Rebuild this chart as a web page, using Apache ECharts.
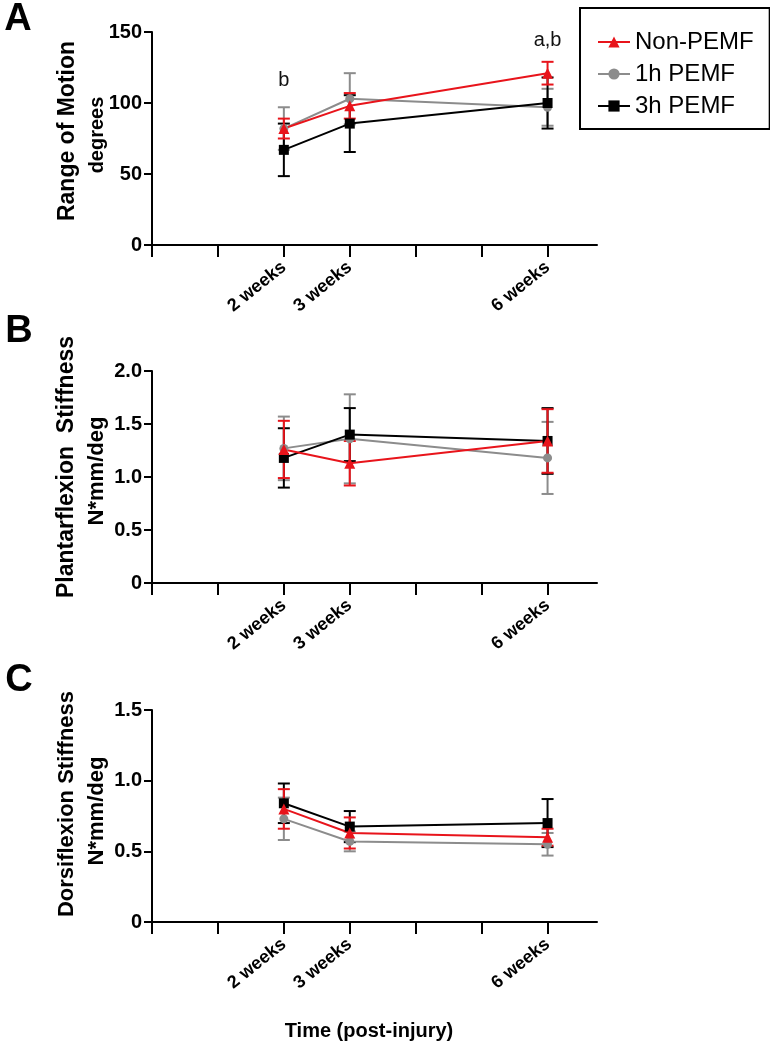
<!DOCTYPE html>
<html>
<head>
<meta charset="utf-8">
<script src="https://cdn.jsdelivr.net/npm/echarts@6/dist/echarts.min.js"></script>
<style>html,body{margin:0;padding:0;background:#fff}#c{width:770px;height:1050px}</style>
</head>
<body>
<div id="c"></div>
<script>
// ---- data ----
const weeks = [2, 3, 6];
const weekLabels = ['2 weeks', '3 weeks', '6 weeks'];
const groups = ['Non-PEMF', '1h PEMF', '3h PEMF'];

// Panel A: Range of Motion (degrees), mean and error
const romNon = [82, 98, 121];
const romNonErr = [7, 9, 8];
const rom1h = [82, 103, 97];
const rom1hErr = [15, 18, 13];
const rom3h = [67, 85.5, 100];
const rom3hErr = [18.5, 20, 18];

// Panel B: Plantarflexion stiffness (N*mm/deg)
const pfNon = [1.26, 1.13, 1.34];
const pfNonErr = [0.27, 0.21, 0.30];
const pf1h = [1.27, 1.36, 1.18];
const pf1hErr = [0.30, 0.42, 0.34];
const pf3h = [1.18, 1.40, 1.34];
const pf3hErr = [0.28, 0.25, 0.31];

// Panel C: Dorsiflexion stiffness (N*mm/deg)
const dfNon = [0.80, 0.63, 0.60];
const dfNonErr = [0.14, 0.11, 0.06];
const df1h = [0.73, 0.57, 0.55];
const df1hErr = [0.15, 0.07, 0.08];
const df3h = [0.84, 0.675, 0.70];
const df3hErr = [0.14, 0.11, 0.17];

// significance annotations on panel A
const annoText = ['b', 'a,b'];
const annoX = [2, 6];
const annoY = [116, 144];

// ---- styling ----
const FONT = 'Arial, "Liberation Sans", sans-serif';
const RED = '#e8141b', GRAY = '#8c8c8c', BLACK = '#000000';
const colors = [RED, GRAY, BLACK];
const symbols = ['triangle', 'circle', 'rect'];
const symSizes = [11, 9, 10];

const grids = [
  {left: 152, top: 32, width: 445, height: 213},
  {left: 152, top: 371, width: 445, height: 212},
  {left: 152, top: 710, width: 445, height: 212}
];
const yCfg = [
  {min: 0, max: 150, interval: 50, fmt: v => String(v)},
  {min: 0, max: 2, interval: 0.5, fmt: v => v === 0 ? '0' : v.toFixed(1)},
  {min: 0, max: 1.5, interval: 0.5, fmt: v => v === 0 ? '0' : v.toFixed(1)}
];

const panels = [
  {means: [romNon, rom1h, rom3h], errs: [romNonErr, rom1hErr, rom3hErr]},
  {means: [pfNon, pf1h, pf3h], errs: [pfNonErr, pf1hErr, pf3hErr]},
  {means: [dfNon, df1h, df3h], errs: [dfNonErr, df1hErr, df3hErr]}
];

function errRender(color) {
  return function (params, api) {
    const x = api.value(0), lo = api.value(1), hi = api.value(2);
    const p1 = api.coord([x, lo]);
    const p2 = api.coord([x, hi]);
    const w = 6;
    const st = {stroke: color, lineWidth: 2};
    return {
      type: 'group',
      children: [
        {type: 'line', shape: {x1: p1[0], y1: p1[1], x2: p2[0], y2: p2[1]}, style: st},
        {type: 'line', shape: {x1: p1[0] - w, y1: p1[1], x2: p1[0] + w, y2: p1[1]}, style: st},
        {type: 'line', shape: {x1: p2[0] - w, y1: p2[1], x2: p2[0] + w, y2: p2[1]}, style: st}
      ]
    };
  };
}

const xAxes = [], yAxes = [], series = [];
grids.forEach((g, i) => {
  xAxes.push({
    type: 'value', gridIndex: i, min: 0, max: 6.75, interval: 1,
    axisLine: {show: true, onZero: false, lineStyle: {color: '#000', width: 2}},
    axisTick: {show: true, length: 12, lineStyle: {color: '#000', width: 2}, customValues: [0, 1, 2, 3, 4, 5, 6]},
    axisLabel: {
      show: true, customValues: weeks, rotate: 39, margin: 20,
      formatter: v => weekLabels[weeks.indexOf(v)] || '',
      color: '#000', fontFamily: FONT, fontWeight: 'bold', fontSize: 18
    },
    splitLine: {show: false}
  });
  const yc = yCfg[i];
  yAxes.push({
    type: 'value', gridIndex: i, min: yc.min, max: yc.max, interval: yc.interval,
    axisLine: {show: true, lineStyle: {color: '#000', width: 2}},
    axisTick: {show: true, length: 8, lineStyle: {color: '#000', width: 2}},
    axisLabel: {formatter: yc.fmt, color: '#000', fontFamily: FONT, fontWeight: 'bold', fontSize: 20, margin: 10},
    splitLine: {show: false}
  });
  // draw order: gray, black, red
  [1, 2, 0].forEach(k => {
    const m = panels[i].means[k], e = panels[i].errs[k];
    series.push({
      type: 'custom', xAxisIndex: i, yAxisIndex: i,
      renderItem: errRender(colors[k]),
      encode: {x: 0, y: [1, 2]},
      data: weeks.map((w, j) => [w, m[j] - e[j], m[j] + e[j]]),
      silent: true, animation: false
    });
    series.push({
      type: 'line', name: groups[k], xAxisIndex: i, yAxisIndex: i,
      data: weeks.map((w, j) => [w, m[j]]),
      symbol: symbols[k], symbolSize: symSizes[k], showAllSymbol: true,
      lineStyle: {color: colors[k], width: 2},
      itemStyle: {color: colors[k]},
      animation: false
    });
  });
});

// annotations drawn at data coordinates
series.push({
  type: 'custom', xAxisIndex: 0, yAxisIndex: 0,
  data: annoX.map((x, j) => [x, annoY[j], j]),
  encode: {x: 0, y: 1},
  renderItem: function (params, api) {
    const p = api.coord([api.value(0), api.value(1)]);
    return {
      type: 'text', x: p[0], y: p[1],
      style: {text: annoText[api.value(2)], fill: '#111', font: '20px ' + FONT,
              align: 'center', verticalAlign: 'middle'}
    };
  },
  silent: true, animation: false
});

const T = (text, x, y, size, rot, weight) => ({
  type: 'text', x: x, y: y, rotation: rot || 0, silent: true,
  style: {text: text, fill: '#000', font: (weight || 'bold') + ' ' + size + 'px ' + FONT,
          align: 'center', verticalAlign: 'middle', textAlign: 'center', textVerticalAlign: 'middle'}
});
const R = Math.PI / 2;

const option = {
  animation: false,
  backgroundColor: '#fff',
  grid: grids.map(g => Object.assign({containLabel: false}, g)),
  xAxis: xAxes,
  yAxis: yAxes,
  legend: {
    data: groups, left: 580, top: 8, orient: 'vertical',
    borderColor: '#000', borderWidth: 2, padding: [22, 16, 11, 17],
    itemWidth: 32, itemHeight: 14, itemGap: 8,
    textStyle: {fontFamily: FONT, fontSize: 24, color: '#000'}
  },
  graphic: [
    T('A', 18, 20, 38), T('B', 19, 332, 38), T('C', 19, 681, 38),
    T('Range of Motion', 68, 131, 23, R), T('degrees', 97, 135, 20, R),
    T('Plantarflexion  Stiffness', 67, 467, 23, R), T('N*mm/deg', 97, 471, 22, R),
    T('Dorsiflexion Stiffness', 67, 804, 22, R), T('N*mm/deg', 97, 811, 22, R),
    T('Time (post-injury)', 369, 1031, 20, 0)
  ],
  series: series
};
const chart = echarts.init(document.getElementById('c'), null, {renderer: 'canvas'});
chart.setOption(option);
</script>
</body>
</html>
